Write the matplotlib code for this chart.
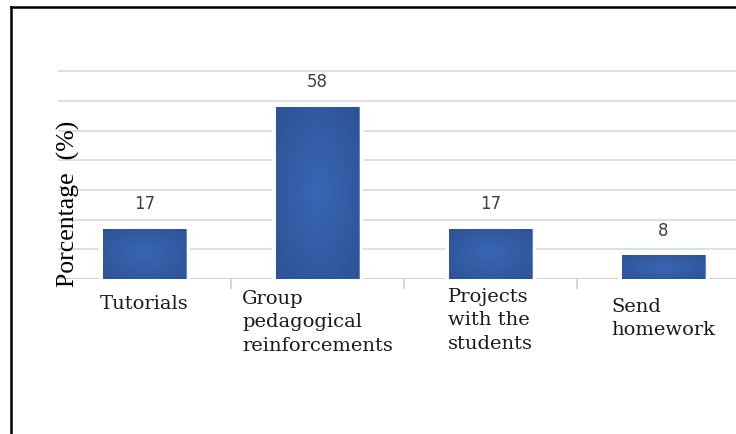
import numpy as np
import matplotlib
matplotlib.use('Agg')
import matplotlib.pyplot as plt
from matplotlib.lines import Line2D

# Data
categories = ['Tutorials', 'Group\npedagogical\nreinforcements',
              'Projects\nwith the\nstudents', 'Send\nhomework']
values = [17, 58, 17, 8]
y_ticks = [0, 10, 20, 30, 40, 50, 60, 70]

W, H = 736, 435
fig = plt.figure(figsize=(W / 100, H / 100), dpi=100)
fig.patch.set_facecolor('white')

# plot area (runs off the right edge like the original crop)
left, right, base, top = 58, 750, 280, 71
ax = fig.add_axes([left / W, (H - base) / H, (right - left) / W, (base - top) / H])
ax.set_xlim(-0.5, len(categories) - 0.5)
ax.set_ylim(0, 70.5)

for s in ax.spines.values():
    s.set_visible(False)
ax.set_yticks(y_ticks)
ax.yaxis.grid(True, color='#d9d9d9', linewidth=1.2, zorder=0)
ax.tick_params(axis='y', length=0, labelleft=False)
ax.set_xticks([])
ax.set_xticks(np.arange(1, len(categories)) - 0.5, minor=True)
ax.tick_params(axis='x', which='minor', length=7, color='#d0d0d0', width=1.2)
ax.axhline(0, color='#d0d0d0', linewidth=1.4, zorder=1)
ax.set_axisbelow(True)

x = np.arange(len(categories))
# white halo behind bars breaks the gridlines
ax.bar(x, values, width=0.53, color='white', zorder=2)
bars = ax.bar(x, values, width=0.474, color='#3461ad', edgecolor='#5a7fc0',
              linewidth=0.6, zorder=3)

# radial gradient fill
gy, gx = np.mgrid[-1:1:60j, -1:1:60j]
r = np.clip(np.sqrt(gx ** 2 + gy ** 2) / 1.4, 0, 1)
c_in = np.array([0x39, 0x66, 0xb6]) / 255
c_out = np.array([0x2d, 0x53, 0x94]) / 255
grad = c_in[None, None, :] * (1 - r[..., None]) + c_out[None, None, :] * r[..., None]
for b in bars:
    bx, by = b.get_x(), b.get_y()
    im = ax.imshow(grad, extent=[bx, bx + b.get_width(), by, by + b.get_height()],
                   aspect='auto', zorder=3.5, interpolation='bilinear')
    im.set_clip_path(b)

# value labels
for xi, v in zip(x, values):
    ax.annotate(str(v), (xi, v), xytext=(0, 12), textcoords='offset points',
                ha='center', va='bottom', fontsize=12, color='#404040',
                family='DejaVu Sans')

# category labels (left aligned block, centered on category)
label_top_px = [295, 290, 288, 298]
for xi, lab, tp in zip(x, categories, label_top_px):
    ax.text(xi, (base - tp) / (base - top) * 70.5, lab, ha='center', va='top',
            multialignment='left', fontsize=14, family='DejaVu Serif',
            color='#1a1a1a', linespacing=1.38, clip_on=False)

# y label drawn over the plot area
fig.text(68 / W, (H - 204) / H, 'Porcentage  (%)', rotation=90, ha='center',
         va='center', fontsize=18.5, family='Liberation Serif', color='black')

# outer frame (top and left edges visible)
fig.add_artist(Line2D([11 / W, 1.0], [1 - 8 / H, 1 - 8 / H], color='black',
                      linewidth=1.8, transform=fig.transFigure))
fig.add_artist(Line2D([11 / W, 11 / W], [0, 1 - 8 / H], color='black',
                      linewidth=1.8, transform=fig.transFigure))

fig.savefig('out.png', dpi=100)
